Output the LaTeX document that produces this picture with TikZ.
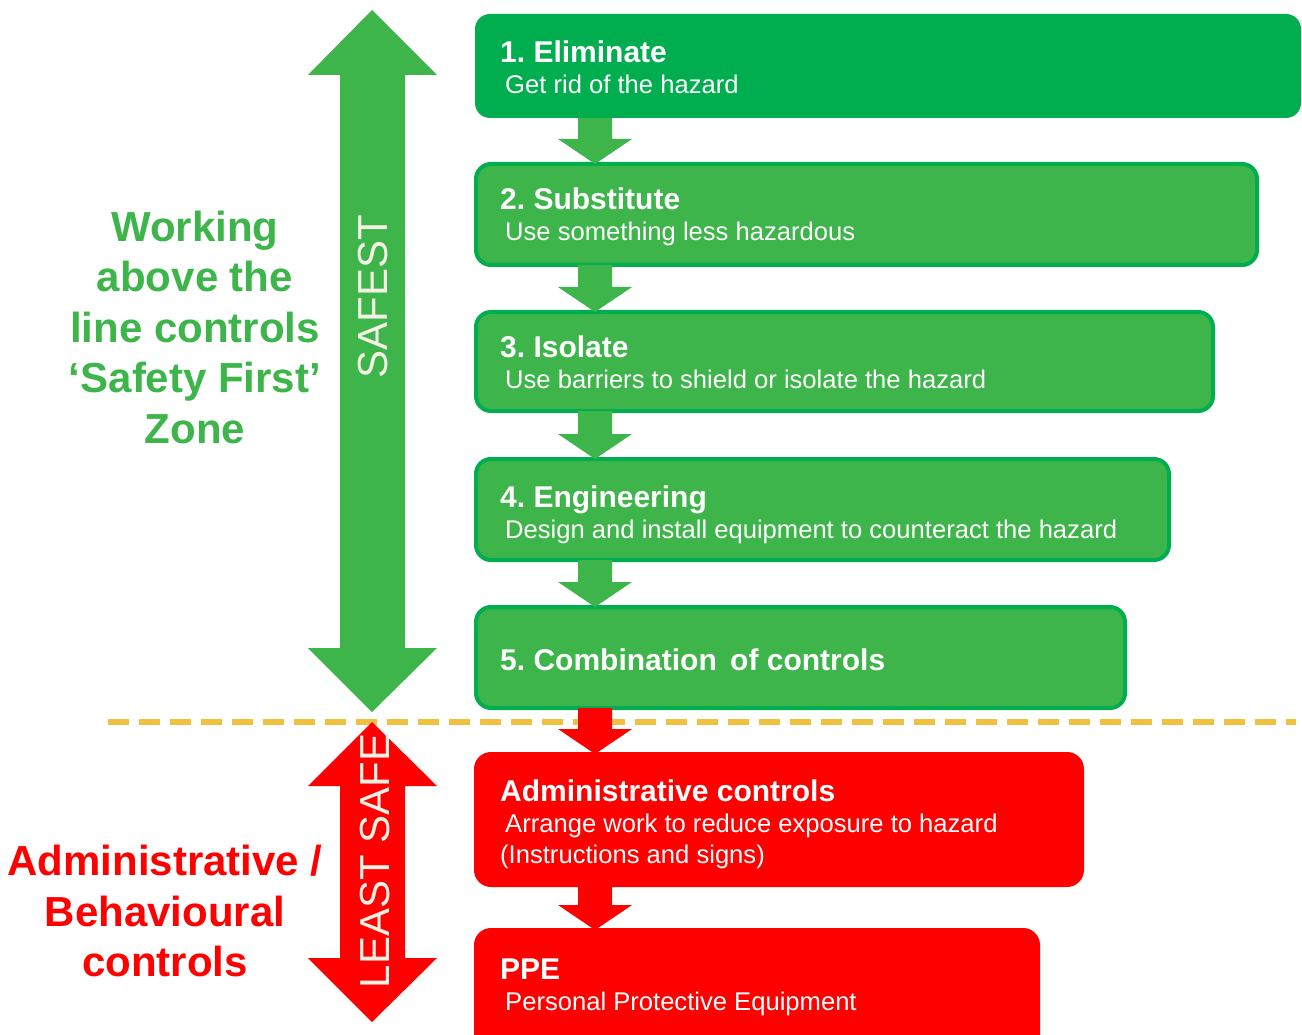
\documentclass[tikz,border=0pt]{standalone}
\usepackage{fontspec}
\setmainfont{Liberation Sans}
\usetikzlibrary{calc}
\definecolor{dkgreen}{HTML}{00AE4F}
\definecolor{ltgreen}{HTML}{3DB54A}
\definecolor{hred}{HTML}{FF0000}
\definecolor{gold}{HTML}{EFC13F}
\definecolor{cream}{HTML}{F4F0E4}
\newcommand\flowarrow[3]{%
  \fill[#1] ($(#2.south west -| ax)+(-17,0)$) -- ($(#2.south west -| ax)+(17,0)$)
    -- ($(#3.north west -| ax)+(17,-25)$) -- ($(#3.north west -| ax)+(37,-25)$)
    -- (#3.north west -| ax) -- ($(#3.north west -| ax)+(-37,-25)$)
    -- ($(#3.north west -| ax)+(-17,-25)$) -- cycle;}
\frenchspacing
\begin{document}
\begin{tikzpicture}[x=1pt,y=-1pt,
  box/.style={rectangle, rounded corners=15pt, anchor=north west, outer sep=0pt, inner sep=0pt, line width=4pt},
  gbox/.style={box, fill=ltgreen, draw=dkgreen},
  rbox/.style={box, fill=hred, draw=hred},
  ttl/.style={anchor=base west, inner sep=0pt, text=white, font=\fontsize{30}{36}\selectfont\bfseries},
  sub/.style={anchor=base west, inner sep=0pt, text=white, font=\fontsize{25.6}{30}\selectfont},
  bigtxt/.style={inner sep=0pt, text=cream, rotate=90, font=\fontsize{42}{48}\selectfont},
  side/.style={align=center, inner sep=0pt, font=\fontsize{42}{50.5}\selectfont\bfseries}]
\clip (0,0) rectangle (1302,1035);
\fill[white] (0,0) rectangle (1302,1035);
\coordinate (ax) at (595,0);
% dashed line
\coordinate (dl) at (108,722);
\coordinate (dr) at (1296,722);
\draw[gold, line width=6pt, dash pattern=on 21pt off 10pt] (dl) -- (dr);
% boxes
\node[box, fill=dkgreen, minimum width=826pt, minimum height=104pt] (b1) at (475,14) {};
\node[gbox, minimum width=781pt, minimum height=101pt] (b2) at (476,164) {};
\node[gbox, minimum width=737pt, minimum height=99pt] (b3) at (476,312) {};
\node[gbox, minimum width=693pt, minimum height=101pt] (b4) at (476,459) {};
\node[gbox, minimum width=649pt, minimum height=101pt] (b5) at (476,607) {};
\node[rbox, minimum width=606pt, minimum height=131pt] (b6) at (476,754) {};
\node[rbox, minimum width=562pt, minimum height=140pt] (b7) at (476,930) {};
% connectors
\flowarrow{ltgreen}{b1}{b2}
\flowarrow{ltgreen}{b2}{b3}
\flowarrow{ltgreen}{b3}{b4}
\flowarrow{ltgreen}{b4}{b5}
\flowarrow{hred}{b5}{b6}
\flowarrow{hred}{b6}{b7}
% texts in boxes
\node[ttl] (t1) at (500,63) {1. Eliminate};
\node[sub] (s1) at (505,94) {Get rid of the hazard};
\node[ttl] (t2) at (500,210) {2. Substitute};
\node[sub] (s2) at (505,241) {Use something less hazardous};
\node[ttl] (t3) at (500,357) {3. Isolate};
\node[sub] (s3) at (505,388) {Use barriers to shield or isolate the hazard};
\node[ttl] (t4) at (500,507) {4. Engineering};
\node[sub] (s4) at (505,538) {Design and install equipment to counteract the hazard};
\node[ttl] (t5) at (500,670) {5. Combination\, of controls};
\node[ttl] (t6) at (500,801) {Administrative controls};
\node[sub] (s6) at (505,832) {Arrange work to reduce exposure to hazard};
\node[sub] (s6b) at (500,863) {(Instructions and signs)};
\node[ttl] (t7) at (500,979) {PPE};
\node[sub] (s7) at (505,1010) {Personal Protective Equipment};
% big arrows
\fill[ltgreen] (372,10) -- (437,75) -- (405,75) -- (405,648) -- (437,648) -- (372,712)
  -- (308,648) -- (340,648) -- (340,75) -- (308,75) -- cycle;
\fill[hred] (372,722) -- (437,786) -- (405,786) -- (405,958) -- (437,958) -- (372,1022)
  -- (308,958) -- (340,958) -- (340,786) -- (308,786) -- cycle;
\node[bigtxt] (safest) at (373,297) {SAFEST};
\node[bigtxt] (least) at (375,861) {LEAST SAFE};
% side texts
\node[side, text=ltgreen] (zone) at (195,327) {Working\\above the\\line controls\\‘Safety First’\\Zone};
\node[side, text=hred] (admin) at (165,911) {Administrative /\\Behavioural\\controls};
\end{tikzpicture}
\end{document}
